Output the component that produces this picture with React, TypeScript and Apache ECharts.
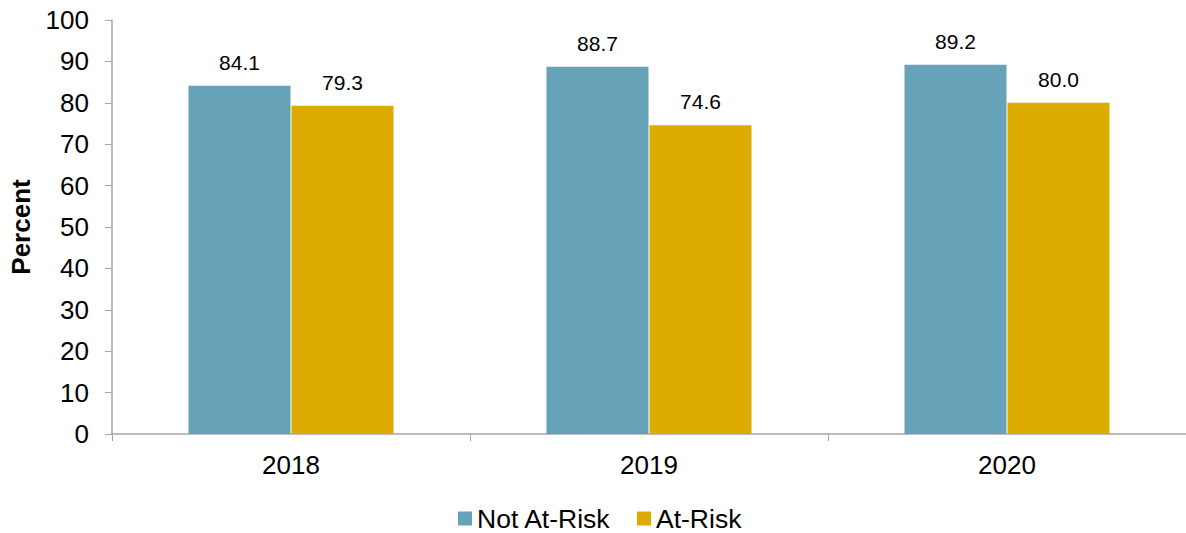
import React, { useEffect, useRef } from "react";
import * as echarts from "echarts";

const categories = ["2018", "2019", "2020"];
const notAtRisk = [84.1, 88.7, 89.2];
const atRisk = [79.3, 74.6, 80.0];
const seriesNames = ["Not At-Risk", "At-Risk"];
const yTicks = { min: 0, max: 100, interval: 10 };

export default function App() {
  const ref = useRef<HTMLDivElement>(null);
  useEffect(() => {
    if (!ref.current) return;
    const chart = echarts.init(ref.current, null, { renderer: "svg" });
    const font = "'Liberation Sans', Arial, sans-serif";
    const label = {
      show: true,
      position: "top",
      distance: 13,
      fontSize: 21,
      color: "#000",
      fontFamily: font,
      formatter: (p: any) => Number(p.value).toFixed(1),
    };
    chart.setOption({
      animation: false,
      textStyle: { fontFamily: font },
      grid: { left: 111, width: 1079, top: 20, bottom: 99, containLabel: false },
      legend: {
        top: 500,
        left: 453,
        itemWidth: 14,
        itemHeight: 14,
        itemGap: 26,
        icon: "rect",
        textStyle: { fontSize: 26.5, color: "#000", fontFamily: font },
        data: seriesNames,
      },
      xAxis: {
        type: "category",
        data: categories,
        axisLine: { lineStyle: { color: "#a6a6a6", width: 1.5 } },
        axisTick: { show: true, length: 7, lineStyle: { color: "#a6a6a6" } },
        axisLabel: { fontSize: 26, color: "#000", margin: 18, fontFamily: font },
      },
      yAxis: {
        type: "value",
        min: yTicks.min,
        max: yTicks.max,
        interval: yTicks.interval,
        name: "Percent",
        nameLocation: "middle",
        nameGap: 78,
        nameTextStyle: { fontSize: 26, fontWeight: "bold", color: "#000", fontFamily: font },
        splitLine: { show: false },
        axisLine: { show: true, lineStyle: { color: "#a6a6a6", width: 1.5 } },
        axisTick: { show: true, length: 7, lineStyle: { color: "#a6a6a6" } },
        axisLabel: { fontSize: 26, color: "#000", margin: 23, fontFamily: font },
      },
      series: [
        {
          name: seriesNames[0],
          type: "bar",
          data: notAtRisk,
          barWidth: 102,
          barGap: "1%",
          itemStyle: { color: "#67A3B8" },
          label,
        },
        {
          name: seriesNames[1],
          type: "bar",
          data: atRisk,
          barWidth: 102,
          barGap: "1%",
          itemStyle: { color: "#DDAA00" },
          label,
        },
      ],
    });
    return () => chart.dispose();
  }, []);
  return (
    <div
      ref={ref}
      style={{ position: "absolute", left: 0, top: 0, width: 1186, height: 533, overflow: "hidden" }}
    />
  );
}
